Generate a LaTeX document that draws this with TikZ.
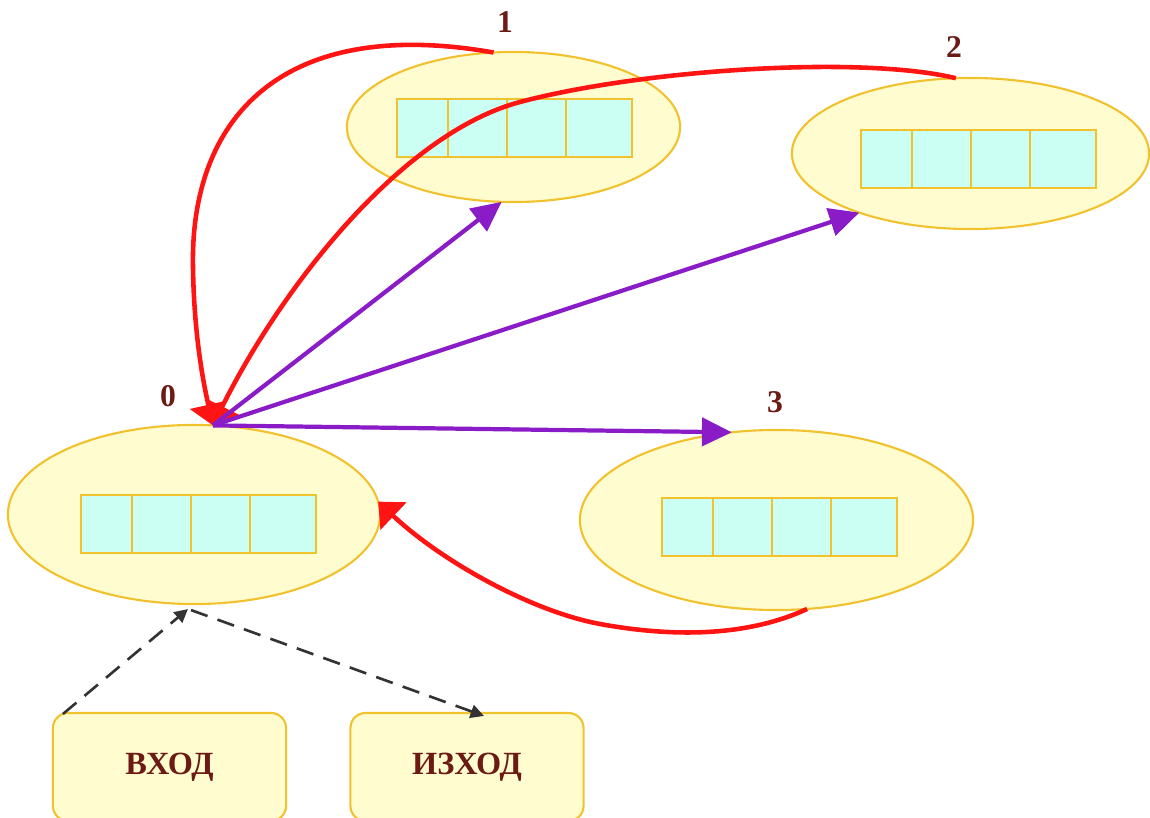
\documentclass[tikz,border=0pt]{standalone}
\usepackage{fontspec}
\setmainfont{Liberation Serif}
\usetikzlibrary{shapes.geometric,arrows.meta,calc}
\definecolor{blobfill}{HTML}{FFFDCF}
\definecolor{blobline}{HTML}{F2C12E}
\definecolor{cellfill}{HTML}{CCFFF4}
\definecolor{ink}{HTML}{6B1A14}
\definecolor{backred}{HTML}{FF1414}
\definecolor{fwdpurple}{HTML}{8A1CC8}
\begin{document}
\begin{tikzpicture}[x=0.01cm,y=-0.01cm,
  blob/.style={ellipse,draw=blobline,fill=blobfill,line width=0.6pt,inner sep=0pt,outer sep=0pt},
  num/.style={text=ink,font=\bfseries\fontsize{9}{10}\selectfont,inner sep=0pt},
  iobox/.style={draw=blobline,fill=blobfill,line width=0.6pt,rounded corners=4.3pt,
    minimum width=2.33cm,minimum height=1.08cm,inner sep=0pt,outer sep=0pt,
    text=ink,font=\bfseries\fontsize{9.2}{10}\selectfont},
  back/.style={draw=backred,line width=1.3pt,-{Triangle[width=10.5pt,length=6pt]}},
  fwd/.style={draw=fwdpurple,line width=1.2pt,-{Triangle[width=8pt,length=8.5pt]}},
  link/.style={draw=black!80,line width=0.75pt,dash pattern=on 5pt off 3pt,
    -{Triangle[width=3.8pt,length=3.8pt]}},
  cellrow/.pic={
    \fill[cellfill] (0,0) rectangle (235,58);
    \draw[blobline,line width=0.6pt] (0,0) rectangle (235,58)
      (51,0) -- (51,58) (110,0) -- (110,58) (169,0) -- (169,58);
  }]
\useasboundingbox (0,0) rectangle (1150,818);

% buffers
\node[blob,minimum width=3.72cm,minimum height=1.79cm] (e0) at (194,514.5) {};
\node[blob,minimum width=3.33cm,minimum height=1.50cm] (e1) at (513.5,127) {};
\node[blob,minimum width=3.57cm,minimum height=1.51cm] (e2) at (970.5,153.5) {};
\node[blob,minimum width=3.93cm,minimum height=1.80cm] (e3) at (776.5,520) {};
\pic at (81,495) {cellrow};
\pic at (397,99) {cellrow};
\pic at (861,130) {cellrow};
\pic at (662,498) {cellrow};

% numbers
\node[num] (n0) at (168,396) {0};
\node[num] (n1) at (505,22) {1};
\node[num] (n2) at (954,47) {2};
\node[num] (n3) at (775,402) {3};

% input / output
\node[iobox] (in) at (169.5,767) {ВХОД};
\node[iobox] (out) at (467,767) {ИЗХОД};

\coordinate (hub) at (e0.78);
\coordinate (e0port) at ($(e0.south)+(-6,5)$);
\coordinate (e0from) at ($(e0.south)+(-3,6)$);
\coordinate (inport) at ($(in.north west)+(10,1)$);
\coordinate (outport) at ($(out.north)+(17,3)$);

% returns to buffer 0
\draw[back] (e1.105) .. controls (280,15) and (190,120) .. (193,267)
  .. controls (194,340) and (205,390) .. (hub);
\draw[back] (e2.101) .. controls (860,55) and (640,70) .. (520,102)
  .. controls (400,134) and (280,290) .. (hub);
\draw[back] (e3.289) .. controls (740,640) and (660,635) .. (600,624)
  .. controls (530,611) and (440,560) .. (e0.4);

% sends from buffer 0
\draw[fwd] (hub) -- (e1.261);
\draw[fwd] (hub) -- (e2.208);
\draw[fwd] (hub) -- (e3.117);

% input and output links
\draw[link] (inport) -- (e0port);
\draw[link] (e0from) -- (outport);
\end{tikzpicture}
\end{document}
